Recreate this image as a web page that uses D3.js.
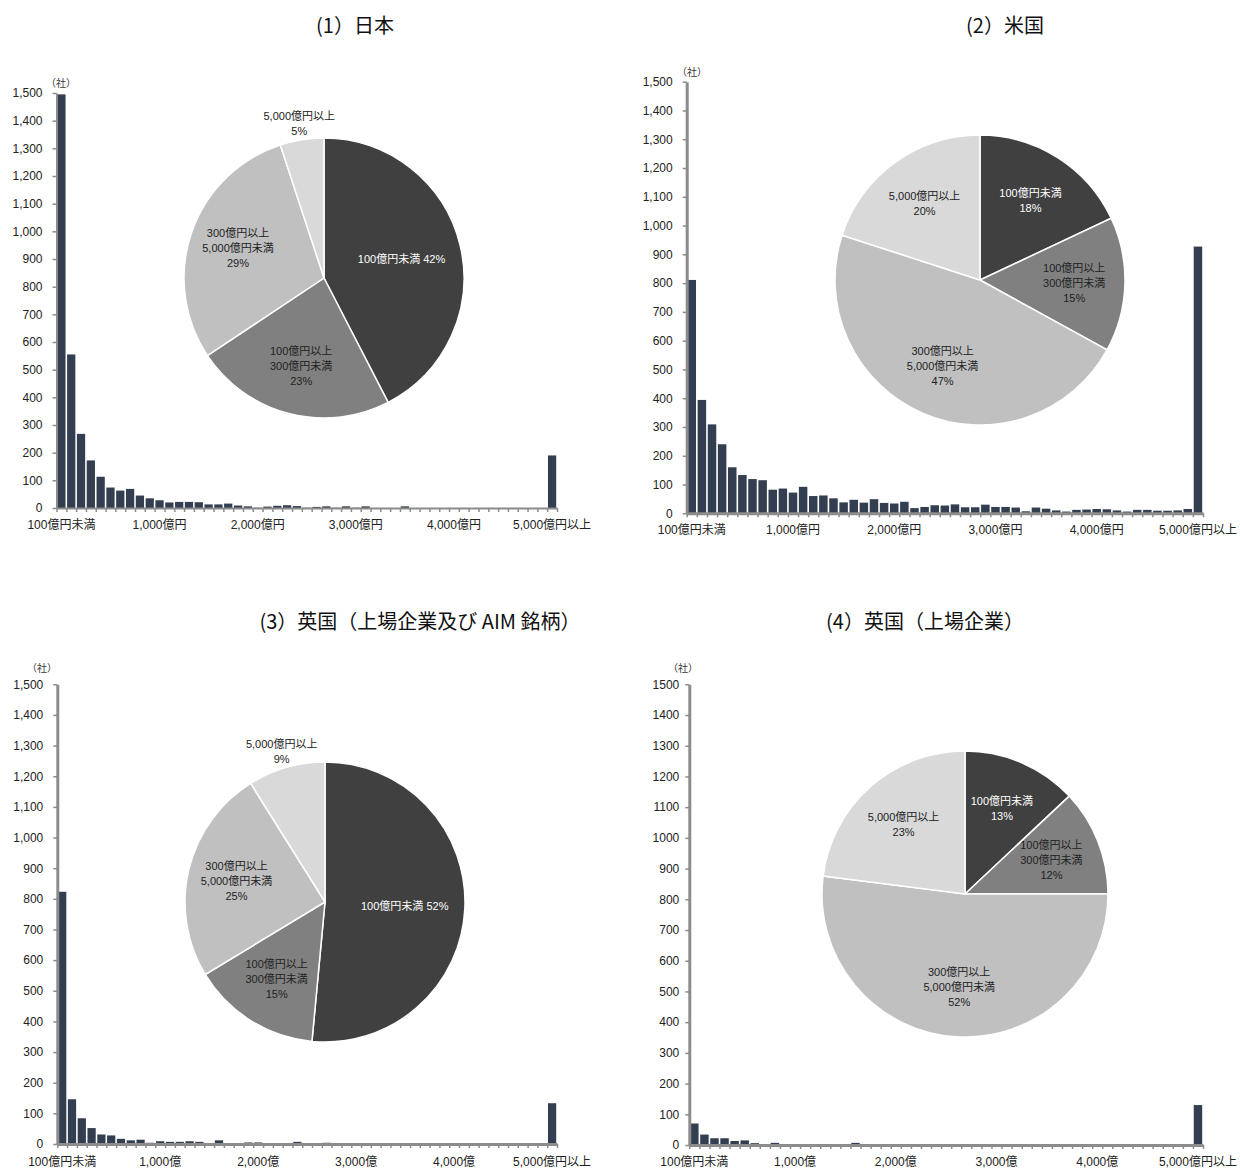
<!DOCTYPE html>
<html lang="ja">
<head>
<meta charset="UTF-8">
<title>時価総額別の企業数分布</title>
<script src="https://d3js.org/d3.v7.min.js"></script>
<style>
  body { margin: 0; background: #fff; }
  svg { font-family: "Liberation Sans", "Noto Sans CJK JP", sans-serif; }
  .title { font-family: "Noto Sans CJK JP", sans-serif; font-size: 20px; fill: #111; }
  .tick text { font-size: 12px; fill: #222; }
  .xlab { font-size: 12px; fill: #222; }
  .unit { font-size: 10px; fill: #333; }
  .plab { font-size: 11px; }
</style>
</head>
<body>
<div id="chart"></div>
<script>
// 51 bins: 100億円未満, 100億円刻み ..., 5,000億円以上
const japanCounts = [1495, 555, 268, 172, 113, 74, 63, 69, 45, 35, 28, 20, 22, 22, 21, 13, 13, 16, 9, 6,
  1, 5, 8, 10, 7, 1, 4, 6, 1, 6, 1, 6, 0, 0, 0, 6, 0, 0, 0, 0,
  0, 0, 0, 0, 0, 0, 0, 0, 0, 0, 190];
const usCounts = [811, 394, 309, 240, 160, 133, 119, 115, 82, 86, 72, 92, 60, 62, 52, 38, 47, 37, 49, 36,
  34, 40, 18, 22, 28, 27, 31, 21, 21, 30, 22, 22, 20, 7, 20, 16, 10, 6, 12, 13,
  15, 14, 10, 6, 12, 12, 9, 9, 10, 15, 927];
const ukAimCounts = [823, 146, 84, 52, 31, 28, 17, 12, 14, 4, 9, 7, 7, 9, 7, 3, 12, 1, 1, 5,
  5, 3, 1, 1, 7, 1, 1, 4, 1, 0, 0, 0, 0, 0, 0, 0, 0, 0, 0, 0,
  0, 0, 0, 0, 0, 0, 0, 0, 0, 0, 133];
const ukListedCounts = [70, 34, 22, 22, 13, 15, 6, 1, 7, 1, 1, 1, 1, 3, 3, 1, 7, 0, 0, 0,
  0, 0, 0, 0, 0, 0, 0, 0, 0, 0, 0, 0, 0, 0, 0, 0, 0, 0, 0, 0,
  0, 0, 0, 0, 0, 0, 0, 0, 0, 0, 130];

const xLabelsYen = ["100億円未満", "1,000億円", "2,000億円", "3,000億円", "4,000億円", "5,000億円以上"];
const xLabelsOku = ["100億円未満", "1,000億", "2,000億", "3,000億", "4,000億", "5,000億円以上"];
const xLabelBins = [0, 10, 20, 30, 40, 50];
const yTicks = d3.range(0, 1501, 100);

const pieCategories = ["100億円未満", "100億円以上300億円未満", "300億円以上5,000億円未満", "5,000億円以上"];
const japanShares = [42, 23, 29, 5];
const usShares = [18, 15, 47, 20];
const ukAimShares = [52, 15, 25, 9];
const ukListedShares = [13, 12, 52, 23];

const japanPieLabels = [["100億円未満 42%"], ["100億円以上", "300億円未満", "23%"], ["300億円以上", "5,000億円未満", "29%"], ["5,000億円以上", "5%"]];
const usPieLabels = [["100億円未満", "18%"], ["100億円以上", "300億円未満", "15%"], ["300億円以上", "5,000億円未満", "47%"], ["5,000億円以上", "20%"]];
const ukAimPieLabels = [["100億円未満 52%"], ["100億円以上", "300億円未満", "15%"], ["300億円以上", "5,000億円未満", "25%"], ["5,000億円以上", "9%"]];
const ukListedPieLabels = [["100億円未満", "13%"], ["100億円以上", "300億円未満", "12%"], ["300億円以上", "5,000億円未満", "52%"], ["5,000億円以上", "23%"]];

const titles = ["(1）日本", "(2）米国", "(3）英国（上場企業及び AIM 銘柄）", "(4）英国（上場企業）"];

const pieColors = ["#404040", "#808080", "#c0c0c0", "#d9d9d9"];
const pieTextColors = ["#fff", "#222", "#222", "#222"];

const svg = d3.select("#chart").append("svg")
  .attr("width", 1240).attr("height", 1170);

const panels = [
  {title: titles[0], tx: 355, ty: 26, counts: japanCounts, xl: xLabelsYen, x0: 56.5, x1: 557, yb: 508, yt: 93,
   axisW: 2, fmt: ",", lblPad: 10, unit: [61, 83], labY: 525,
   shares: japanShares, plabels: japanPieLabels, cx: 324, cy: 278, r: 140, outside: [3]},
  {title: titles[1], tx: 1005, ty: 26, counts: usCounts, xl: xLabelsYen, x0: 686.7, x1: 1203, yb: 513.3, yt: 81.7,
   axisW: 3, fmt: ",", lblPad: 10, unit: [692, 72], labY: 530,
   shares: usShares, plabels: usPieLabels, cx: 980, cy: 280, r: 145, outside: []},
  {title: titles[2], tx: 420, ty: 622, counts: ukAimCounts, xl: xLabelsOku, x0: 57.3, x1: 557, yb: 1144, yt: 684.3,
   axisW: 3, fmt: ",", lblPad: 10, unit: [42, 668], labY: 1162,
   shares: ukAimShares, plabels: ukAimPieLabels, cx: 325, cy: 902, r: 140, outside: [3]},
  {title: titles[3], tx: 925, ty: 622, counts: ukListedCounts, xl: xLabelsOku, x0: 689.3, x1: 1203, yb: 1145, yt: 684.3,
   axisW: 3, fmt: "d", lblPad: 6, unit: [683, 668], labY: 1162,
   shares: ukListedShares, plabels: ukListedPieLabels, cx: 965, cy: 894, r: 143, outside: []}
];

panels.forEach(p => {
  svg.append("text").attr("class", "title")
    .attr("x", p.tx).attr("y", p.ty).attr("dy", "0.35em")
    .attr("text-anchor", "middle").text(p.title);

  const bins = d3.range(p.counts.length);
  const x = d3.scaleBand().domain(bins).range([p.x0, p.x1]).paddingInner(0.16).paddingOuter(0.08);
  const xEdge = d3.scaleLinear().domain([0, bins.length]).range([p.x0, p.x1]);
  const y = d3.scaleLinear().domain([0, 1500]).range([p.yb, p.yt]);

  // bars
  svg.append("g").selectAll("rect")
    .data(p.counts)
    .join("rect")
    .attr("x", (d, i) => x(i))
    .attr("y", d => y(d))
    .attr("width", x.bandwidth())
    .attr("height", d => y(0) - y(d))
    .attr("fill", "#333f50");

  // x axis
  const gx = svg.append("g")
    .attr("transform", `translate(0,${p.yb})`)
    .call(d3.axisBottom(xEdge).tickValues(d3.range(bins.length + 1)).tickSize(4).tickSizeOuter(0).tickFormat(""));
  gx.select(".domain").attr("stroke", "#8c8c8c").attr("stroke-width", p.axisW);
  gx.selectAll(".tick line").attr("stroke", "#8c8c8c").attr("stroke-width", 1.5);

  svg.append("g").selectAll("text")
    .data(xLabelBins)
    .join("text")
    .attr("class", "xlab")
    .attr("x", d => x(d) + x.bandwidth() / 2)
    .attr("y", p.labY).attr("dy", "0.35em")
    .attr("text-anchor", "middle")
    .text((d, i) => p.xl[i]);

  // y axis
  const gy = svg.append("g")
    .attr("transform", `translate(${p.x0},0)`)
    .call(d3.axisLeft(y).tickValues(yTicks).tickSize(4).tickSizeOuter(0).tickPadding(p.lblPad).tickFormat(d3.format(p.fmt)));
  gy.select(".domain").attr("stroke", "#8c8c8c").attr("stroke-width", p.axisW);
  gy.selectAll(".tick line").attr("stroke", "#8c8c8c").attr("stroke-width", 1.5);

  svg.append("text").attr("class", "unit")
    .attr("x", p.unit[0]).attr("y", p.unit[1]).attr("dy", "0.35em")
    .attr("text-anchor", "middle").text("（社）");

  // pie
  const pie = d3.pie().sort(null).value(d => d);
  const arcs = pie(p.shares);
  const arc = d3.arc().innerRadius(0).outerRadius(p.r);
  const labelArc = d3.arc().innerRadius(p.r * 0.65).outerRadius(p.r * 0.65);
  const innerArc = d3.arc().innerRadius(p.r * 0.57).outerRadius(p.r * 0.57);
  const outArc = d3.arc().innerRadius(p.r * 1.12).outerRadius(p.r * 1.12);
  const gp = svg.append("g").attr("transform", `translate(${p.cx},${p.cy})`);

  gp.selectAll("path")
    .data(arcs)
    .join("path")
    .attr("d", arc)
    .attr("fill", (d, i) => pieColors[i])
    .attr("stroke", "#fff")
    .attr("stroke-width", 1.5);

  arcs.forEach((a, i) => {
    const out = p.outside.includes(i);
    const lines = p.plabels[i];
    const [lx, ly] = out ? outArc.centroid(a) : (lines.length === 1 ? innerArc.centroid(a) : labelArc.centroid(a));
    const t = gp.append("text").attr("class", "plab")
      .attr("text-anchor", "middle")
      .attr("fill", out ? "#222" : pieTextColors[i]);
    lines.forEach((s, k) => {
      t.append("tspan")
        .attr("x", lx)
        .attr("y", ly + (k - (lines.length - 1) / 2) * 15)
        .attr("dy", "0.35em")
        .text(s);
    });
  });
});
</script>
</body>
</html>
